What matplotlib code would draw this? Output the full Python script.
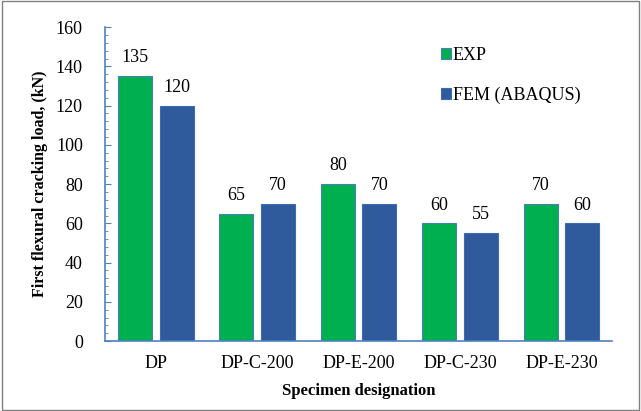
import numpy as np
import matplotlib
matplotlib.use("Agg")
import matplotlib.pyplot as plt
from matplotlib.patches import Rectangle
from matplotlib.ticker import MultipleLocator

# Data
specimens = ["DP", "DP-C-200", "DP-E-200", "DP-C-230", "DP-E-230"]
exp_load = [135, 65, 80, 60, 70]
fem_load = [120, 70, 70, 55, 60]

plt.rcParams["font.family"] = ["Liberation Serif", "DejaVu Serif"]

fig = plt.figure(figsize=(6.41, 4.11), dpi=100)
ax = fig.add_axes([0.164, 0.170, 0.791, 0.764])

x = np.arange(len(specimens))
w = 0.335
off = 0.205

green = "#00B050"
blue = "#2F5B9C"
b1 = ax.bar(x - off, exp_load, w, color=green, edgecolor="#4A7FB8", linewidth=0.8, label="EXP")
b2 = ax.bar(x + off, fem_load, w, color=blue, edgecolor="#3D6DB0", linewidth=0.8, label="FEM (ABAQUS)")

for bars, vals in ((b1, exp_load), (b2, fem_load)):
    for r, v in zip(bars, vals):
        ax.text(r.get_x() + r.get_width() / 2, v + 5, str(v), ha="center", va="bottom", fontsize=13)

ax.set_xlim(-0.5, len(specimens) - 0.5)
ax.set_ylim(0, 160)
ax.yaxis.set_major_locator(MultipleLocator(20))
ax.yaxis.set_minor_locator(MultipleLocator(4))
ax.set_xticks(x)
ax.set_xticklabels(specimens, fontsize=13)
ax.tick_params(axis="x", length=0, pad=10)
ax.tick_params(axis="y", which="major", direction="in", length=4, color="#4F81BD", labelsize=13, pad=16)
ax.tick_params(axis="y", which="minor", direction="in", length=2.5, color="#4F81BD")

for s in ("top", "right"):
    ax.spines[s].set_visible(False)
for s in ("left", "bottom"):
    ax.spines[s].set_color("#4F81BD")
    ax.spines[s].set_linewidth(1.2)

ax.set_xlabel("Specimen designation", fontsize=12, fontweight="bold", labelpad=8)
ax.set_ylabel("First flexural cracking load, (kN)", fontsize=11.5, fontweight="bold", labelpad=6)

ax.legend(loc="upper left", bbox_to_anchor=(0.63, 0.99), frameon=False, fontsize=13,
          handlelength=0.55, handleheight=0.55, handletextpad=0.1, labelspacing=1.3)

fig.patches.append(Rectangle((0.003, 0.003), 0.994, 0.994, transform=fig.transFigure,
                             fill=False, edgecolor="#808080", linewidth=1))

fig.savefig("out.png", dpi=100)
